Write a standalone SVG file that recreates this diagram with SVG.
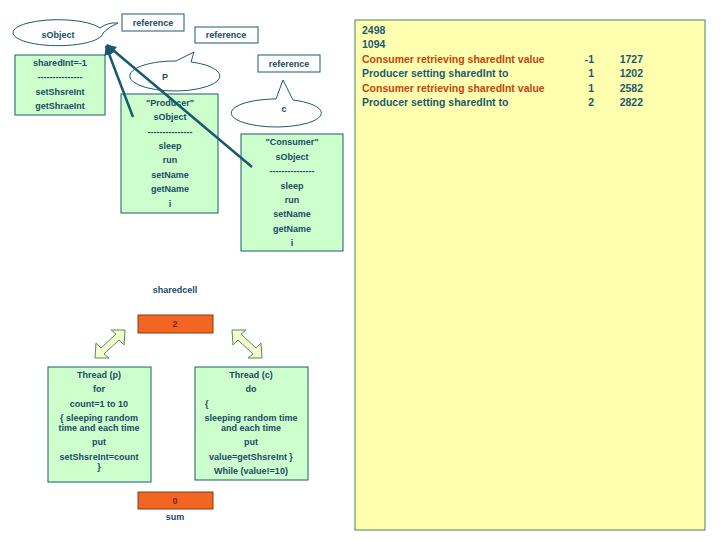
<svg xmlns="http://www.w3.org/2000/svg" width="720" height="540" viewBox="0 0 720 540">
<defs>
<style>
text{font-family:"Liberation Sans",Arial,sans-serif;font-size:9px;font-weight:bold;fill:#1a4a66;text-anchor:middle}
.box{fill:#ccffcc;stroke:#1a5a70;stroke-width:1}
.ref{fill:#fff;stroke:#1a5a70;stroke-width:1}
.call{fill:#fff;stroke:#1a5a70;stroke-width:1}
.or{fill:#f26522;stroke:#8a3a10;stroke-width:1}
.dbl{fill:#f4fbd0;stroke:#5a8a5a;stroke-width:1}
.rt{text-anchor:start;font-size:10.5px;fill:#1a5a70}
.rn{text-anchor:end;font-size:10.5px;fill:#1a5a70}
.red{fill:#c8420e}
</style>
<marker id="ah" viewBox="0 0 10 10" refX="9" refY="5" markerWidth="4" markerHeight="4" orient="auto"><path d="M0,0L10,5L0,10z" fill="#1a5a70"/></marker>
</defs>
<rect width="720" height="540" fill="#fff"/>
<g id="panel"><rect x="355" y="20" width="350" height="510" fill="#ffffb0" stroke="#4a8060"/>
<text class="rt" x="362" y="34">2498</text>
<text class="rt" x="362" y="48">1094</text>
<text class="rt red" x="362" y="63">Consumer retrieving sharedInt value</text>
<text class="rt" x="362" y="77">Producer setting sharedInt to</text>
<text class="rt red" x="362" y="92">Consumer retrieving sharedInt value</text>
<text class="rt" x="362" y="106">Producer setting sharedInt to</text>
<text class="rn" x="594" y="63">-1</text><text class="rn" x="594" y="77">1</text><text class="rn" x="594" y="92">1</text><text class="rn" x="594" y="106">2</text>
<text class="rn" x="643" y="63">1727</text><text class="rn" x="643" y="77">1202</text><text class="rn" x="643" y="92">2582</text><text class="rn" x="643" y="106">2822</text>
</g>
<g id="sobj"><path class="call" d="M100,28 Q108,22 118,23 Q110,26 103,33 A45,13 0 1 1 100,28z"/><text x="58" y="38">sObject</text></g>
<g id="ref1"><rect class="ref" x="122" y="14" width="62" height="17"/><text x="153" y="26">reference</text></g>
<g id="ref2"><rect class="ref" x="195" y="27" width="63" height="16"/><text x="226" y="38">reference</text></g>
<g id="ref3"><rect class="ref" x="258" y="55" width="62" height="17"/><text x="289" y="67">reference</text></g>
<g id="p"><path class="call" d="M176,61 L194,52 L191,62 A45,15 0 1 1 176,61z"/><text x="165" y="80">P</text></g>
<g id="c"><path class="call" d="M276,99 L283,80 L293,100 A45,14 0 1 1 276,99z"/><text x="284" y="112">c</text></g>
<g id="shared"><rect class="box" x="15" y="55" width="90" height="60"/>
<text x="60" y="66">sharedInt=-1</text><text x="60" y="80">---------------</text><text x="60" y="95">setShsreInt</text><text x="60" y="109">getShraeInt</text></g>
<g id="producer"><rect class="box" x="121" y="94" width="97" height="119"/>
<text x="170" y="106">"Producer"</text><text x="170" y="120">sObject</text><text x="170" y="135">---------------</text><text x="170" y="149">sleep</text><text x="170" y="163">run</text><text x="170" y="178">setName</text><text x="170" y="192">getName</text><text x="170" y="207">i</text></g>
<g id="consumer"><rect class="box" x="241" y="134" width="102" height="117"/>
<text x="292" y="145">"Consumer"</text><text x="292" y="160">sObject</text><text x="292" y="174">---------------</text><text x="292" y="189">sleep</text><text x="292" y="203">run</text><text x="292" y="217">setName</text><text x="292" y="232">getName</text><text x="292" y="246">i</text></g>
<g id="connectors" stroke="#1a5a70" stroke-width="2.5" fill="none">
<line x1="133" y1="117" x2="106" y2="46" marker-end="url(#ah)"/>
<line x1="252" y1="167" x2="107" y2="45" marker-end="url(#ah)"/>
</g>
<text x="175" y="293">sharedcell</text>
<g id="cell"><rect class="or" x="138" y="315" width="75" height="18"/><text x="175" y="327" style="fill:#7a2a00">2</text></g>
<g id="dblL"><path class="dbl" d="M125,330 L124,345 L119,340 L104,354 L109,358 L95,358 L96,343 L101,348 L116,334 L111,330z"/></g>
<g id="dblR"><path class="dbl" d="M232,330 L246,330 L241,334 L256,348 L261,343 L262,358 L248,358 L253,354 L238,340 L233,345z"/></g>
<g id="tp"><rect class="box" x="48" y="367" width="103" height="115"/>
<text x="99" y="378">Thread (p)</text><text x="99" y="392">for</text><text x="99" y="407">count=1 to 10</text><text x="99" y="421">{ sleeping random</text><text x="99" y="431">time and each time</text><text x="99" y="445">put</text><text x="99" y="460">setShsreInt=count</text><text x="99" y="470">}</text></g>
<g id="tc"><rect class="box" x="195" y="367" width="113" height="113"/>
<text x="251" y="378">Thread (c)</text><text x="251" y="392">do</text><text x="205" y="407" style="text-anchor:start">{</text><text x="251" y="421">sleeping random time</text><text x="251" y="431">and each time</text><text x="251" y="445">put</text><text x="251" y="460">value=getShsreInt }</text><text x="251" y="474">While (value!=10)</text></g>
<g id="sum"><rect class="or" x="138" y="492" width="75" height="17"/><text x="175" y="504" style="fill:#7a2a00">0</text><text x="175" y="520">sum</text></g>
</svg>
